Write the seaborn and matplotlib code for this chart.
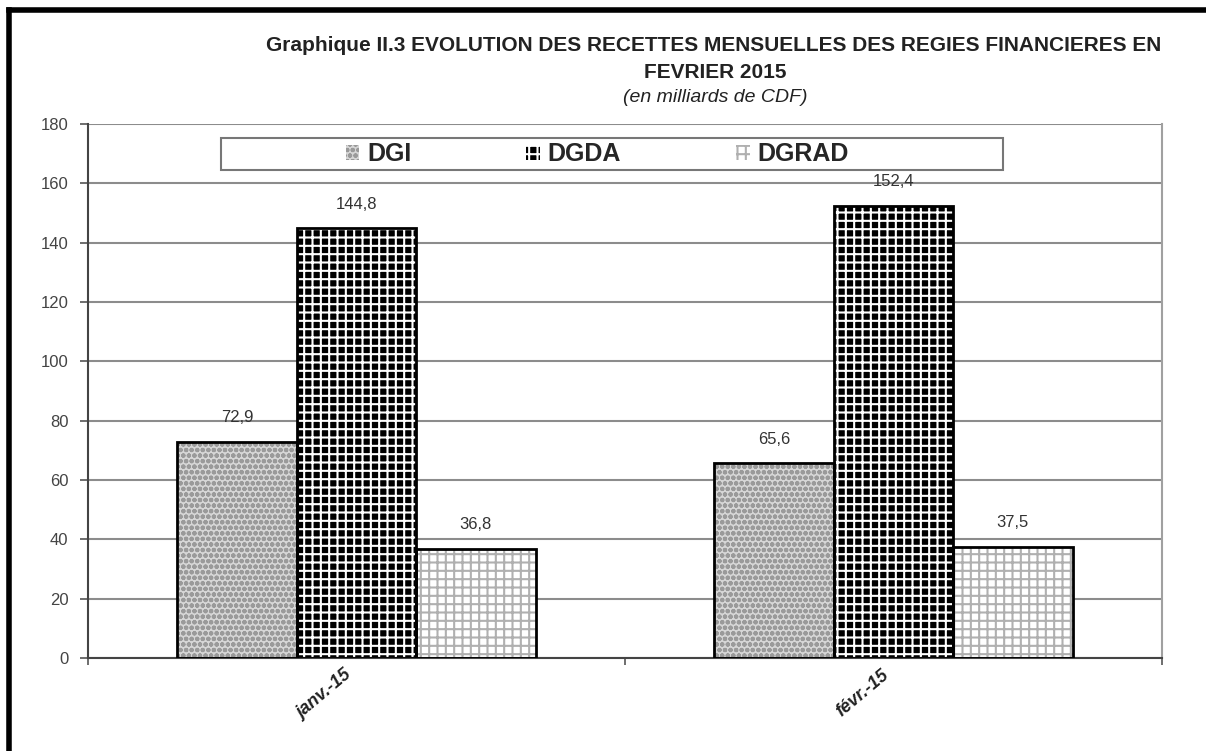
import numpy as np
import pandas as pd
import matplotlib
matplotlib.use("Agg")
import matplotlib.pyplot as plt
import matplotlib.transforms as mtransforms
import seaborn as sns
from matplotlib.patches import Patch, Rectangle
from matplotlib.lines import Line2D

# ---- data ----
months = ["janv.-15", "févr.-15"]
regies = ["DGI", "DGDA", "DGRAD"]
dgi = [72.9, 65.6]
dgda = [144.8, 152.4]
dgrad = [36.8, 37.5]
yticks = [0, 20, 40, 60, 80, 100, 120, 140, 160, 180]

title1 = "Graphique II.3 EVOLUTION DES RECETTES MENSUELLES DES REGIES FINANCIERES EN"
title2 = "FEVRIER 2015"
subtitle = "(en milliards de CDF)"

df = pd.DataFrame({
    "Mois": months * 3,
    "Régie": [r for r in regies for _ in months],
    "Valeur": dgi + dgda + dgrad,
})

sns.set_theme(style="white")
plt.rcParams["font.family"] = ["Liberation Sans", "DejaVu Sans"]
plt.rcParams["hatch.linewidth"] = 1.5

# styles per series: (facecolor, hatch colour, hatch)
styles = {
    "DGI": ("#d6d6d6", "#9a9a9a", "ooo"),
    "DGDA": ("black", "white", "++"),
    "DGRAD": ("white", "#b0b0b0", "++"),
}

fig = plt.figure(figsize=(12.06, 7.51), dpi=100)
ax = fig.add_axes([0.073, 0.1238, 0.8905, 0.7111])

sns.barplot(data=df, x="Mois", y="Valeur", hue="Régie", hue_order=regies,
            order=months, width=0.667, ax=ax, legend=False,
            palette={r: styles[r][0] for r in regies}, saturation=1)

for cont, reg in zip(ax.containers, regies):
    fc, hc, h = styles[reg]
    for bar in cont:
        bar.set_hatch(h)
        bar.set_edgecolor(hc)
        bar.set_linewidth(0)
        ax.add_patch(Rectangle(bar.get_xy(), bar.get_width(), bar.get_height(),
                               fill=False, ec="black", lw=2.0, zorder=3))
    ax.bar_label(cont, labels=[f"{v:.1f}".replace(".", ",") for v in cont.datavalues],
                 padding=12, fontsize=12, color="#333333")

ax.set_ylim(0, 180)
ax.set_xlim(-0.5, 1.5)
ax.set_yticks(yticks)
ax.set_yticklabels([str(t) for t in yticks], fontsize=12, color="#444444")
ax.yaxis.grid(True, color="#8c8c8c", linewidth=1.5)
ax.set_axisbelow(True)
ax.tick_params(axis="y", direction="out", length=6, width=1.2, color="#555555", pad=8, left=True)
ax.set_xticks([0, 1])
ax.set_xticklabels(months, rotation=40, ha="right", rotation_mode="anchor",
                   fontsize=13, fontweight="bold", fontstyle="italic", color="#222222")
ax.tick_params(axis="x", which="major", length=0, pad=6)
offset = mtransforms.ScaledTranslation(-12 / 100, 0, fig.dpi_scale_trans)
for lab in ax.get_xticklabels():
    lab.set_transform(lab.get_transform() + offset)
ax.set_xticks([-0.5, 0.5, 1.5], minor=True)
ax.tick_params(axis="x", which="minor", direction="out", length=5, width=1.2, color="#555555", bottom=True)
ax.set_xlabel("")
ax.set_ylabel("")

for s in ["left", "bottom"]:
    ax.spines[s].set_color("#444444")
    ax.spines[s].set_linewidth(1.5)
ax.spines["right"].set_color("#a0a0a0")
ax.spines["right"].set_linewidth(1.5)
ax.spines["top"].set_visible(False)

# legend box
ax.add_patch(Rectangle((0.124, 0.914), 0.728, 0.06, transform=ax.transAxes,
                       facecolor="white", edgecolor="#777777", lw=1.5, zorder=4))
handles = [Patch(facecolor=styles[r][0], edgecolor=styles[r][1], hatch=styles[r][2]) for r in regies]
leg = ax.legend(handles, regies, loc="center", bbox_to_anchor=(0.474, 0.944), ncol=3,
                frameon=False, prop={"weight": "bold", "size": 18},
                handlelength=0.55, handleheight=0.55, handletextpad=0.3, columnspacing=4.6)
leg.set_zorder(5)
for hnd in leg.legend_handles:
    hnd.set_linewidth(0)

# titles
fig.text(0.592, 0.940, title1, ha="center", va="center", fontsize=15, fontweight="bold",
         color="#222222")
fig.text(0.593, 0.904, title2, ha="center", va="center", fontsize=15, fontweight="bold",
         color="#222222")
fig.text(0.593, 0.870, subtitle, ha="center", va="center", fontsize=14, fontstyle="italic",
         color="#222222")

# outer frame (left and top edges)
fig.add_artist(Line2D([0.0075, 0.0075], [0.0, 0.987], transform=fig.transFigure,
                      color="black", lw=4, solid_capstyle="projecting"))
fig.add_artist(Line2D([0.0075, 1.0], [0.987, 0.987], transform=fig.transFigure,
                      color="black", lw=4, solid_capstyle="projecting"))

fig.savefig("out.png", dpi=100)
